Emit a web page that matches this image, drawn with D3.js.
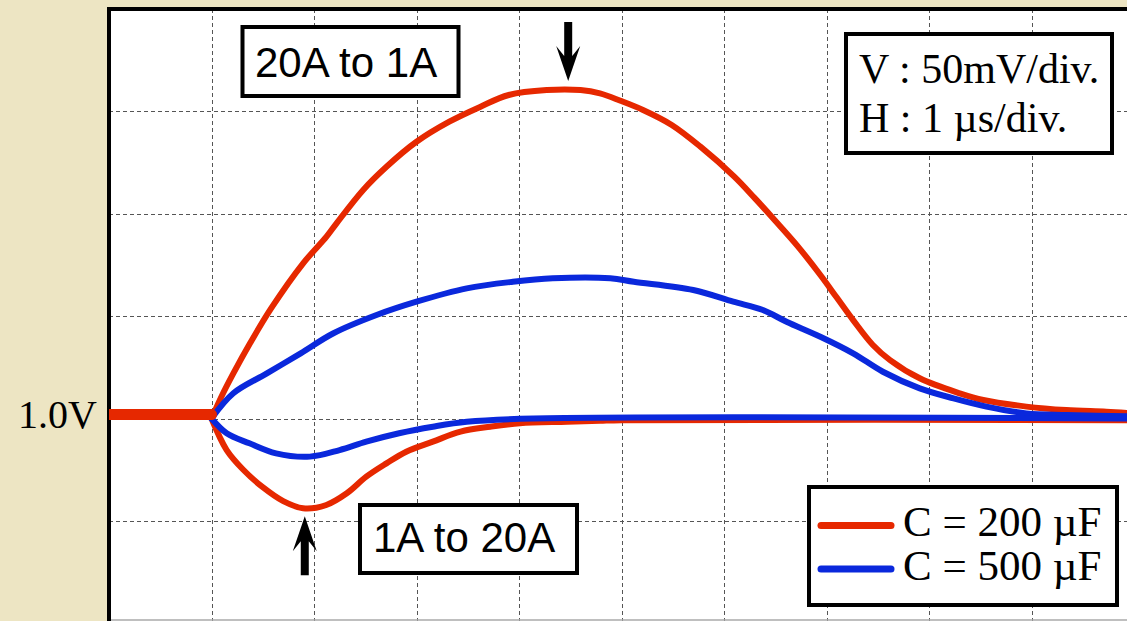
<!DOCTYPE html>
<meta charset="utf-8">

<script src="https://cdn.jsdelivr.net/npm/d3@7"></script>

<style>
    body {
        margin: 0;
        background: #ede5c3;
    }

    .grid line {
        stroke: #555;
        stroke-width: 1;
        stroke-dasharray: 4, 3;
        shape-rendering: crispEdges;
    }

    .trace {
        fill: none;
        stroke-linejoin: round;
        stroke-linecap: round;
    }

    .box {
        fill: #fff;
        stroke: #000;
        stroke-width: 4;
    }

    .sans {
        font-family: "Liberation Sans", Arial, sans-serif;
        font-size: 42px;
    }

    .serif {
        font-family: "Liberation Serif", "Times New Roman", serif;
        font-size: 42px;
    }
</style>

<body>
    <svg class="chart"></svg>
</body>

<script>
    ///////////////////////
    // Data (t in us, v in mV relative to 1.0V)
    var xTicks = [1, 2, 3, 4, 5, 6, 7, 8, 9, 10];
    var yTicks = [-50, 0, 50, 100, 150];

    var red200Up = [
        [1, 0], [1.1, 11], [1.213, 22], [1.376, 36.7], [1.583, 53.8], [1.894, 75.7],
        [2.122, 88.7], [2.22, 95.2], [2.48, 111.5], [2.707, 122.8], [3.0, 135],
        [3.32, 144.8], [3.62, 152], [3.9, 157.8], [4.27, 160.2], [4.6, 160.2],
        [4.79, 158.6], [4.99, 155], [5.21, 150.5], [5.49, 143.2], [5.77, 132.6],
        [6.1, 118], [6.3, 107.5], [6.5, 96.5], [6.71, 84.6], [6.94, 70],
        [7.1, 59], [7.26, 48], [7.45, 36], [7.62, 28.5], [7.91, 19.6],
        [8.3, 12.3], [8.53, 9], [8.95, 5.8], [9.34, 4.1], [9.73, 3.3], [10, 2.5]
    ];

    var red200Down = [
        [1, 0], [1.148, -15.4], [1.31, -25], [1.5, -33.5], [1.7, -40.3], [1.894, -43.8],
        [2.12, -42.2], [2.32, -36.5], [2.51, -28.4], [2.707, -21.9], [2.9, -16.2],
        [3.16, -11.3], [3.43, -6.4], [3.72, -4], [4.01, -2.3], [4.47, -1.6],
        [4.79, -1.1], [5.0, -0.8], [10, -0.8]
    ];

    var blue500Up = [
        [1, 0], [1.213, 12.3], [1.54, 22], [1.87, 31.8], [2.19, 41.6], [2.61, 50.5],
        [3.0, 57], [3.49, 63.5], [3.94, 66.7], [4.33, 68.4], [4.89, 68.4],
        [5.12, 66.7], [5.7, 62.7], [6.09, 57], [6.38, 52.9], [6.61, 47.2],
        [6.94, 39.9], [7.26, 31.8], [7.55, 22.8], [7.91, 14.7], [8.24, 9.8],
        [8.56, 5.8], [8.95, 2.5], [9.34, 1.7], [10, 1]
    ];

    var blue500Down = [
        [1, 0], [1.148, -7.2], [1.37, -12.1], [1.63, -17], [1.96, -18.6], [2.25, -15.4],
        [2.51, -11.3], [2.83, -7.2], [3.16, -4], [3.49, -1.6], [4.14, 0], [10, 0]
    ];

    // before the load step both traces sit on the 1.0V level
    var preStep = [[0, 1.9], [1, 1.9]];

    var legendItems = [
        { label: "C = 200 \u00b5F", color: "#e62800" },
        { label: "C = 500 \u00b5F", color: "#0a28dc" }
    ];

    ///////////////////////
    // Chart Size Setup
    var svg = d3.select(".chart")
        .attr("width", 1127)
        .attr("height", 621);

    ///////////////////////
    // Scales (1 div = 1 us horizontally, 50 mV vertically)
    var x = d3.scaleLinear()
        .domain([0, 10])
        .range([109, 1134]);

    var y = d3.scaleLinear()
        .domain([-100, 200])
        .range([623.5, 8.5]);

    ///////////////////////
    // Plot area
    svg.append("defs").append("clipPath")
        .attr("id", "plot-clip")
        .append("rect")
        .attr("x", x(0))
        .attr("y", y(200))
        .attr("width", x(10) - x(0))
        .attr("height", y(-100) - y(200));

    svg.append("rect")
        .attr("x", x(0))
        .attr("y", y(200))
        .attr("width", x(10) - x(0))
        .attr("height", y(-100) - y(200))
        .attr("fill", "#fff");

    var grid = svg.append("g").attr("class", "grid");

    grid.selectAll(".vline")
        .data(xTicks)
        .enter().append("line")
        .attr("class", "vline")
        .attr("x1", function(d) { return Math.round(x(d)) + 0.5; })
        .attr("x2", function(d) { return Math.round(x(d)) + 0.5; })
        .attr("y1", y(200))
        .attr("y2", y(-100));

    grid.selectAll(".hline")
        .data(yTicks)
        .enter().append("line")
        .attr("class", "hline")
        .attr("x1", x(0))
        .attr("x2", x(10))
        .attr("y1", function(d) { return Math.round(y(d)) + 0.5; })
        .attr("y2", function(d) { return Math.round(y(d)) + 0.5; });

    // bottom edge of the screen
    svg.append("line")
        .attr("x1", x(0))
        .attr("x2", 1127)
        .attr("y1", 620)
        .attr("y2", 620)
        .attr("stroke", "#aaa")
        .attr("stroke-width", 1.5);

    // frame: thick black left and top edges
    svg.append("path")
        .attr("d", "M" + x(0) + "," + 621 + "V" + (y(200) + 0.5) + "H1127")
        .attr("fill", "none")
        .attr("stroke", "#000")
        .attr("stroke-width", 4);

    ///////////////////////
    // Traces
    var line = d3.line()
        .x(function(d) { return x(d[0]); })
        .y(function(d) { return y(d[1]); })
        .curve(d3.curveCatmullRom.alpha(0.5));

    var traces = svg.append("g").attr("clip-path", "url(#plot-clip)");

    [
        { data: red200Up, color: "#e62800", w: 6 },
        { data: red200Down, color: "#e62800", w: 6 },
        { data: blue500Up, color: "#0a28dc", w: 6 },
        { data: blue500Down, color: "#0a28dc", w: 6 },
        { data: preStep, color: "#e62800", w: 11 }
    ].forEach(function(s) {
        traces.append("path")
            .datum(s.data)
            .attr("class", "trace")
            .attr("stroke", s.color)
            .attr("stroke-width", s.w)
            .attr("stroke-linecap", s.w > 6 ? "butt" : "round")
            .attr("d", line);
    });

    ///////////////////////
    // Y label
    svg.append("text")
        .attr("class", "serif")
        .style("font-size", "40px")
        .attr("text-anchor", "end")
        .attr("x", 97)
        .attr("y", y(0) + 9)
        .text("1.0V");

    ///////////////////////
    // Annotations
    var arrowPath = "M-4,-59L4,-59L4,-25L12,-35L0,0L-12,-35L-4,-25Z";

    svg.append("path")
        .attr("d", arrowPath)
        .attr("transform", "translate(" + x(4.48) + "," + (y(160.2) - 9) + ")");

    svg.append("path")
        .attr("d", arrowPath)
        .attr("transform", "translate(" + x(1.91) + "," + (y(-43.8) + 8) + ") rotate(180)");

    svg.append("rect")
        .attr("class", "box")
        .attr("x", 242.5).attr("y", 27)
        .attr("width", 216).attr("height", 69);
    svg.append("text")
        .attr("class", "sans")
        .attr("x", 255).attr("y", 77)
        .text("20A to 1A");

    svg.append("rect")
        .attr("class", "box")
        .attr("x", 360).attr("y", 505)
        .attr("width", 217).attr("height", 68);
    svg.append("text")
        .attr("class", "sans")
        .attr("x", 373).attr("y", 552)
        .text("1A to 20A");

    svg.append("rect")
        .attr("class", "box")
        .attr("x", 846).attr("y", 34)
        .attr("width", 266).attr("height", 119);
    svg.append("text")
        .attr("class", "serif")
        .attr("x", 859).attr("y", 83)
        .text("V : 50mV/div.");
    svg.append("text")
        .attr("class", "serif")
        .attr("x", 859).attr("y", 132)
        .text("H : 1 \u00b5s/div.");

    ///////////////////////
    // Legend
    var legend = svg.append("g");

    legend.append("rect")
        .attr("class", "box")
        .attr("x", 809).attr("y", 487)
        .attr("width", 308).attr("height", 118);

    var item = legend.selectAll(".item")
        .data(legendItems)
        .enter().append("g")
        .attr("class", "item")
        .attr("transform", function(d, i) { return "translate(0," + (i * 43.5) + ")"; });

    item.append("line")
        .attr("x1", 821).attr("x2", 891)
        .attr("y1", 525.5).attr("y2", 525.5)
        .attr("stroke", function(d) { return d.color; })
        .attr("stroke-width", 7)
        .attr("stroke-linecap", "round");

    item.append("text")
        .attr("class", "serif")
        .style("font-size", "43px")
        .attr("x", 903)
        .attr("y", 536)
        .text(function(d) { return d.label; });
</script>
